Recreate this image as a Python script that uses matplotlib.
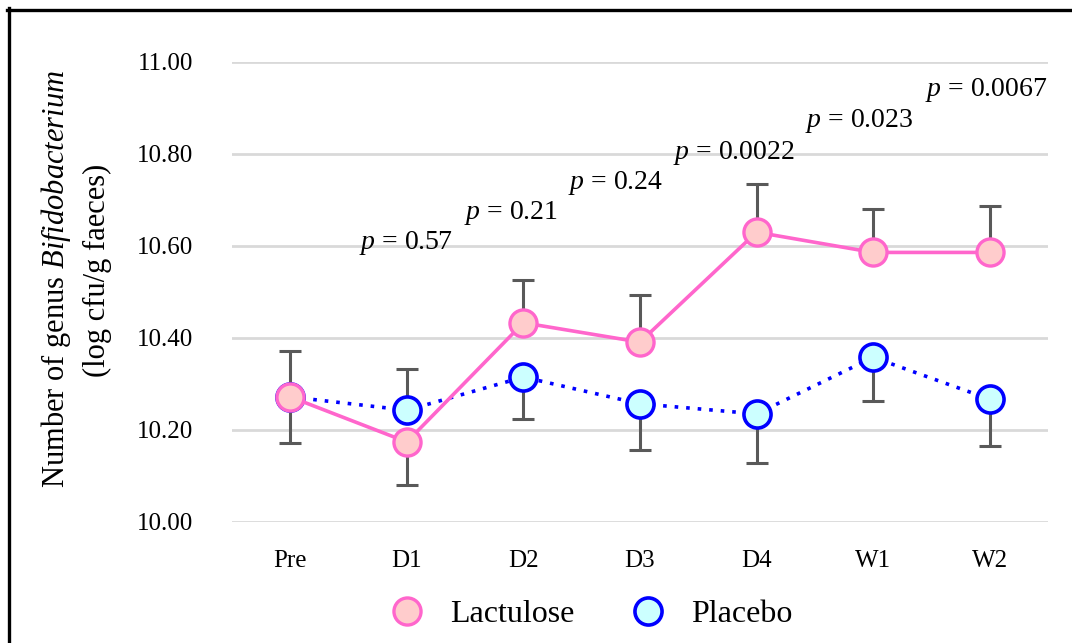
import matplotlib
matplotlib.use("Agg")
import matplotlib.pyplot as plt
from matplotlib.lines import Line2D
import numpy as np

# values
timepoints = ["Pre", "D1", "D2", "D3", "D4", "W1", "W2"]
lactulose = [10.272, 10.174, 10.433, 10.391, 10.630, 10.586, 10.586]
lactulose_sd = [0.100, 0.094, 0.093, 0.102, 0.104, 0.095, 0.102]
lactulose_up = [True, False, True, True, True, True, True]   # which side the bar is drawn
placebo = [10.272, 10.243, 10.315, 10.257, 10.235, 10.358, 10.267]
placebo_sd = [0.100, 0.090, 0.091, 0.100, 0.107, 0.095, 0.101]
placebo_up = [False, True, False, False, False, False, False]
p_labels = ["0.57", "0.21", "0.24", "0.0022", "0.023", "0.0067"]
p_x = [0.99, 1.89, 2.79, 3.81, 4.88, 5.97]
p_y = [10.607, 10.672, 10.737, 10.802, 10.872, 10.939]

plt.rcParams["font.family"] = ["Liberation Serif", "DejaVu Serif"]
plt.rcParams["mathtext.fontset"] = "custom"
plt.rcParams["mathtext.it"] = "Liberation Serif:italic"
plt.rcParams["mathtext.rm"] = "Liberation Serif"

PINK, PINK_FILL = "#ff66cc", "#ffcccc"
BLUE, BLUE_FILL = "#0000ff", "#ccffff"
ERR = "#595959"


def one_sided(sd, up):
    sd = np.asarray(sd)
    up = np.asarray(up)
    return np.vstack([np.where(up, 0, sd), np.where(up, sd, 0)])


fig = plt.figure(figsize=(10.72, 6.43), dpi=100)
ax = fig.add_axes([0.2164, 0.1882, 0.7612, 0.7154])
x = np.arange(len(timepoints))

ax.errorbar(x, lactulose, yerr=one_sided(lactulose_sd, lactulose_up), fmt="none",
            ecolor=ERR, elinewidth=2.2, capsize=8, capthick=2.2, zorder=2)
ax.errorbar(x, placebo, yerr=one_sided(placebo_sd, placebo_up), fmt="none",
            ecolor=ERR, elinewidth=2.2, capsize=8, capthick=2.2, zorder=2)
ax.plot(x, placebo, color=BLUE, lw=2.6, ls=(0, (1, 2.2)), zorder=3,
        marker="o", ms=19.5, mfc=BLUE_FILL, mec=BLUE, mew=2.6)
ax.plot(x, lactulose, color=PINK, lw=2.6, zorder=4,
        marker="o", ms=19.5, mfc=PINK_FILL, mec=PINK, mew=2.4)

for px, py, lab in zip(p_x, p_y, p_labels):
    ax.text(px, py, r"$p$" + f" = {lab}", ha="center", va="center", fontsize=20)

ax.set_xlim(-0.5, len(timepoints) - 0.5)
ax.set_ylim(10.0, 11.0)
ax.set_yticks(np.arange(10.0, 11.01, 0.2))
ax.set_yticklabels([f"{v:.2f}" for v in np.arange(10.0, 11.01, 0.2)], fontsize=18)
ax.set_xticks(x, timepoints, fontsize=18)
ax.tick_params(length=0)
ax.tick_params(axis="y", pad=28)
ax.tick_params(axis="x", pad=20)
ax.grid(axis="y", color="#d9d9d9", lw=2)
ax.set_axisbelow(True)
for s in ax.spines.values():
    s.set_visible(False)

fig.text(0.052, 0.567, "Number of genus $\\mathit{Bifidobacterium}$",
         rotation=90, ha="center", va="center", fontsize=22)
fig.text(0.091, 0.580, "(log cfu/g faeces)",
         rotation=90, ha="center", va="center", fontsize=22)

handles = [Line2D([], [], ls="none", marker="o", ms=19.5, mfc=PINK_FILL, mec=PINK, mew=2.4),
           Line2D([], [], ls="none", marker="o", ms=19.5, mfc=BLUE_FILL, mec=BLUE, mew=2.6)]
fig.legend(handles, ["Lactulose", "Placebo"], loc="center", ncol=2,
           bbox_to_anchor=(0.545, 0.045), frameon=False, fontsize=23,
           handletextpad=0.35, columnspacing=1.3)

# partial frame around the figure (top and left edges)
fig.add_artist(Line2D([8.5 / 1072, 8.5 / 1072], [0, 1 - 8 / 643],
                      transform=fig.transFigure, color="black", lw=2.4))
fig.add_artist(Line2D([7 / 1072, 1], [1 - 9.5 / 643, 1 - 9.5 / 643],
                      transform=fig.transFigure, color="black", lw=2.4))

fig.savefig("out.png", dpi=100)
